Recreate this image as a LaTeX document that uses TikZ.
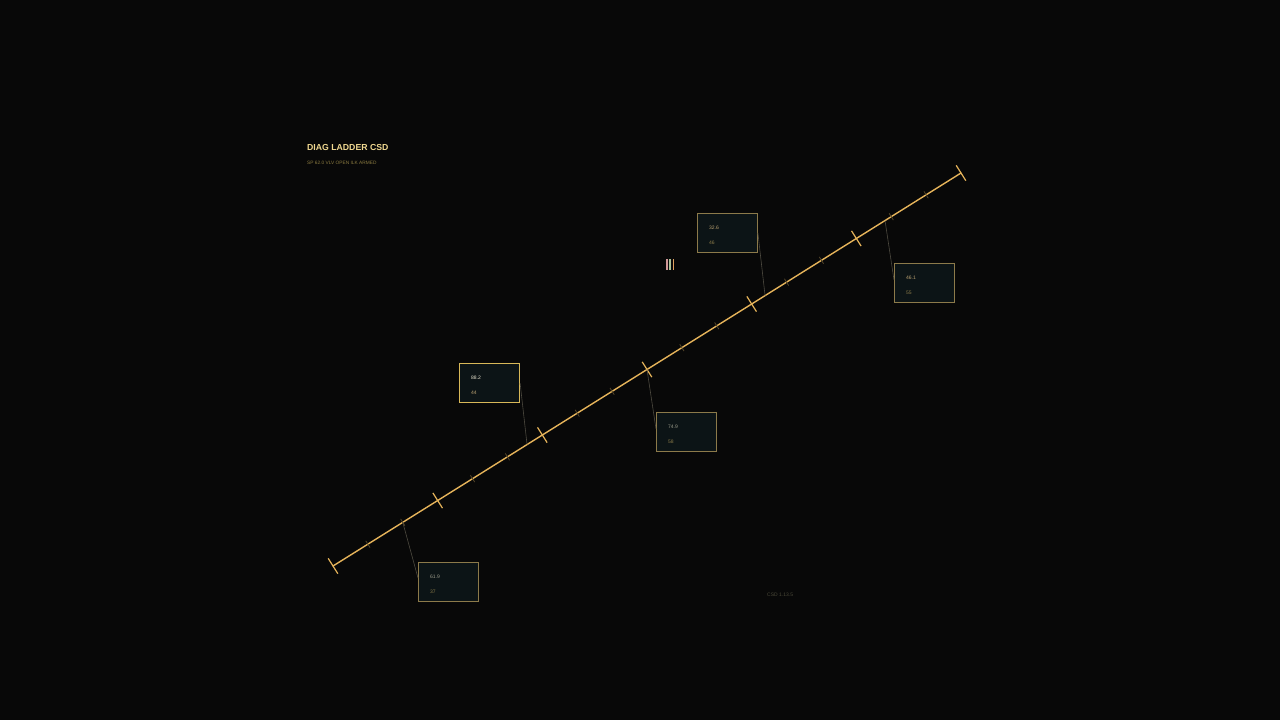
\documentclass[tikz,border=0pt]{standalone}
\usepackage{fontspec}
\setmainfont{Liberation Sans}
\usetikzlibrary{calc}
\definecolor{bgc}{HTML}{080808}
\definecolor{axisc}{HTML}{E6B45A}
\definecolor{minorc}{HTML}{54462A}
\definecolor{leaderc}{HTML}{4D4A40}
\definecolor{boxfill}{HTML}{0C1416}
\definecolor{boxline}{HTML}{8C7A4A}
\definecolor{boxhi}{HTML}{D8B858}
\definecolor{titlec}{HTML}{F0D890}
\definecolor{subc}{HTML}{8A7A40}
\definecolor{footc}{HTML}{4A4838}
\definecolor{valc}{HTML}{9A9A8A}
\definecolor{valgold}{HTML}{B8A070}
\definecolor{valhi}{HTML}{E8E4D0}
\definecolor{idc}{HTML}{8A7A48}
\definecolor{barA}{HTML}{D09898}
\definecolor{barB}{HTML}{A8C098}
\definecolor{barC}{HTML}{E0A060}
\begin{document}
\begin{tikzpicture}[x=1pt,y=-1pt,
  axisline/.style={draw=axisc,line width=1.4pt,line cap=round},
  majortick/.style={draw=axisc,line width=1.2pt},
  minortick/.style={draw=minorc,line width=0.8pt},
  leader/.style={draw=leaderc,line width=0.6pt},
  readout/.style={draw=boxline,fill=boxfill,line width=0.9pt,minimum width=60pt,minimum height=39pt,inner sep=0pt,anchor=north west},
  readouthi/.style={readout,draw=boxhi,line width=1.1pt},
  valtext/.style={font=\fontsize{5}{6}\selectfont,anchor=west,inner sep=0pt},
  titletext/.style={font=\fontsize{8.7}{10}\selectfont\bfseries,text=titlec,anchor=base west,inner sep=0pt},
  subtext/.style={font=\fontsize{4.8}{6}\selectfont,text=subc,anchor=base west,inner sep=0pt},
  foottext/.style={font=\fontsize{5}{6}\selectfont,text=footc,anchor=west,inner sep=0pt},
  bar/.style={line width=1.6pt}
]
\useasboundingbox (0,0) rectangle (1280,720);
\fill[bgc] (0,0) rectangle (1280,720);

% title
\node[titletext] (title) at (307,150) {DIAG LADDER CSD};
\node[subtext] (subtitle) at (307,164.5) {SP 62.0 VLV OPEN ILK ARMED};
\node[foottext] (footer) at (767,595) {CSD 1.13.5};

% axis
\coordinate (A) at (333,566);
\coordinate (B) at (961,173);
\draw[axisline] (A) -- (B);
\foreach \i in {0,3,...,18} {
  \coordinate (t\i) at ($(A)!\i/18!(B)$);
  \draw[majortick] ($(t\i)+(4.8,7.63)$) -- ($(t\i)-(4.8,7.63)$);
}
\foreach \i in {1,2,4,5,7,8,10,11,13,14,16,17} {
  \coordinate (t\i) at ($(A)!\i/18!(B)$);
  \draw[minortick] ($(t\i)+(2.12,3.39)$) -- ($(t\i)-(2.12,3.39)$);
}

% readout boxes
\node[readout] (b1) at (418,562) {};
\node[readouthi] (b2) at (459,363) {};
\node[readout] (b3) at (656,412) {};
\node[readout] (b4) at (697,213) {};
\node[readout] (b5) at (894,263) {};

\node[valtext,text=valc] (v1) at ($(b1.north west)+(12,15)$) {61.9};
\node[valtext,text=idc] (i1) at ($(b1.north west)+(12,30)$) {37};
\node[valtext,text=valhi] (v2) at ($(b2.north west)+(12,15)$) {88.2};
\node[valtext,text=valgold] (i2) at ($(b2.north west)+(12,30)$) {44};
\node[valtext,text=valc] (v3) at ($(b3.north west)+(12,15)$) {74.9};
\node[valtext,text=idc] (i3) at ($(b3.north west)+(12,30)$) {58};
\node[valtext,text=valgold] (v4) at ($(b4.north west)+(12,15)$) {32.6};
\node[valtext,text=idc] (i4) at ($(b4.north west)+(12,30)$) {46};
\node[valtext,text=valgold] (v5) at ($(b5.north west)+(12,15)$) {46.1};
\node[valtext,text=idc] (i5) at ($(b5.north west)+(12,30)$) {55};

% leaders
\coordinate (p2) at ($(A)!0.309!(B)$);
\coordinate (p4) at ($(A)!0.688!(B)$);
\coordinate (p5) at ($(A)!0.879!(B)$);
\draw[leader] (t2) -- ([yshift=4pt]b1.west);
\draw[leader] (b2.east) -- (p2);
\draw[leader] (t9) -- ([yshift=3pt]b3.west);
\draw[leader] (b4.east) -- (p4);
\draw[leader] (p5) -- ([yshift=3pt]b5.west);

% indicator bars
\coordinate (m) at (670,264.5);
\draw[bar,barA] ($(m)+(-3.3,-5.5)$) -- ($(m)+(-3.3,5.5)$);
\draw[bar,barB] ($(m)+(0,-5.5)$) -- ($(m)+(0,5.5)$);
\draw[bar,barC] ($(m)+(3.3,-5.5)$) -- ($(m)+(3.3,5.5)$);
\end{tikzpicture}
\end{document}
